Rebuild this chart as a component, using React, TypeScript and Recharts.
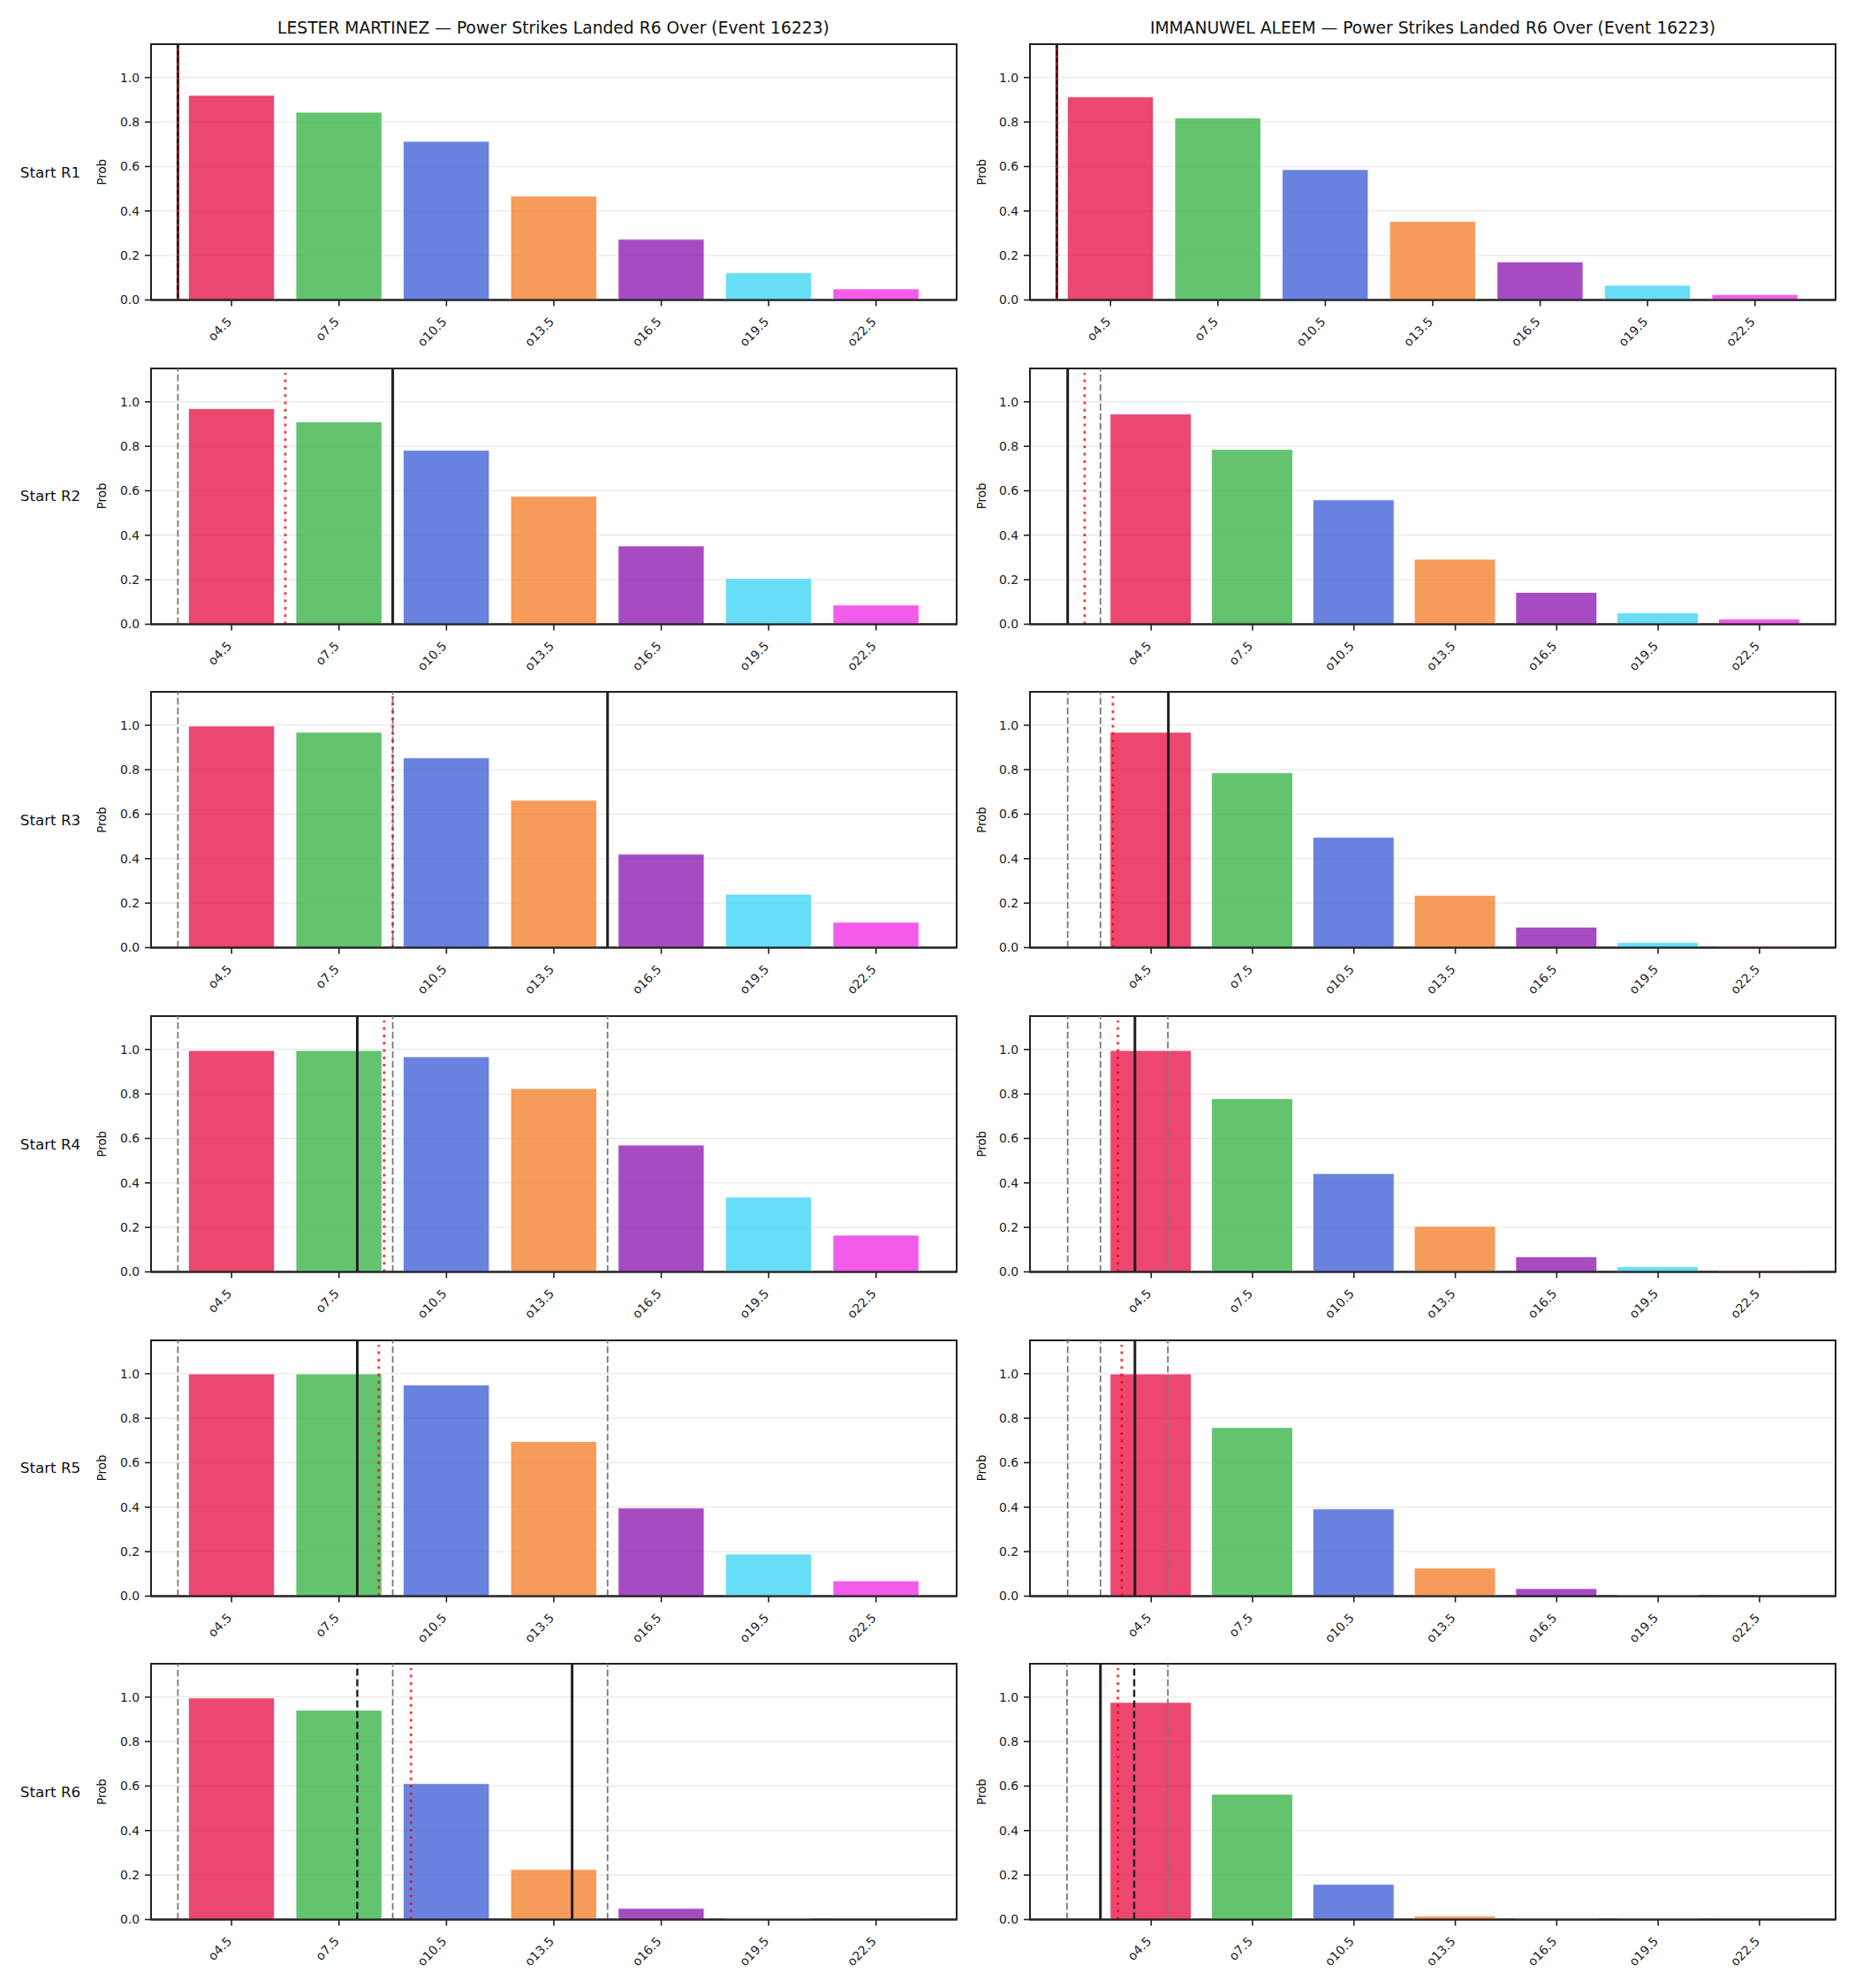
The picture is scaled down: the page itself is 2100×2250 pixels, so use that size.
import React from 'react';
import { BarChart, Bar, Cell, XAxis, YAxis, CartesianGrid, ReferenceLine, ReferenceArea } from 'recharts';

const LINE_LABELS = ['o4.5', 'o7.5', 'o10.5', 'o13.5', 'o16.5', 'o19.5', 'o22.5'];
const BAR_COLORS = ['#e6194B', '#3cb44b', '#4363d8', '#f58231', '#911eb4', '#42d4f4', '#f032e6'];
const ROUND_LABELS = ['Start R1', 'Start R2', 'Start R3', 'Start R4', 'Start R5', 'Start R6'];
const Y_TICKS = [0, 0.2, 0.4, 0.6, 0.8, 1.0];
const X_TICKS = [0, 1, 2, 3, 4, 5, 6];
const TITLES = [
  'LESTER MARTINEZ \u2014 Power Strikes Landed R6 Over (Event 16223)',
  'IMMANUWEL ALEEM \u2014 Power Strikes Landed R6 Over (Event 16223)',
];

// probability of going over each line, per starting round
const lesterR1 = [0.92, 0.844, 0.713, 0.467, 0.273, 0.122, 0.05];
const lesterR2 = [0.969, 0.91, 0.782, 0.575, 0.352, 0.206, 0.086];
const lesterR3 = [0.996, 0.968, 0.853, 0.662, 0.42, 0.24, 0.114];
const lesterR4 = [0.995, 0.995, 0.967, 0.824, 0.57, 0.336, 0.165];
const lesterR5 = [0.999, 0.999, 0.949, 0.695, 0.396, 0.189, 0.069];
const lesterR6 = [0.996, 0.941, 0.611, 0.225, 0.05, 0.003, 0.001];

const aleemR1 = [0.913, 0.818, 0.586, 0.353, 0.171, 0.066, 0.024];
const aleemR2 = [0.945, 0.786, 0.559, 0.292, 0.143, 0.051, 0.023];
const aleemR3 = [0.968, 0.786, 0.496, 0.235, 0.092, 0.023, 0.006];
const aleemR4 = [0.995, 0.779, 0.442, 0.205, 0.068, 0.023, 0.006];
const aleemR5 = [0.999, 0.758, 0.392, 0.126, 0.034, 0.003, 0.001];
const aleemR6 = [0.976, 0.563, 0.158, 0.015, 0.005, 0.002, 0.001];

// marker positions on the line axis (0 = o4.5, 1 = o7.5, ...)
const lesterPrior = [[], [-0.5], [-0.5, 1.5], [-0.5, 1.5, 3.5], [-0.5, 1.5, 3.5], [-0.5, 1.5, 3.5]];
const lesterLast = [null, null, null, null, null, 1.17];
const lesterNow = [-0.5, 1.5, 3.5, 1.17, 1.17, 3.17];
const lesterProj = [-0.5, 0.5, 1.5, 1.42, 1.37, 1.67];
const lesterXMin = [-0.75, -0.75, -0.75, -0.75, -0.75, -0.75];

const aleemPrior = [[], [-0.5], [-0.823, -0.5], [-0.823, -0.5, 0.165], [-0.823, -0.5, 0.165], [-0.83, -0.5, 0.165]];
const aleemLast = [null, null, null, null, null, -0.167];
const aleemNow = [-0.5, -0.823, 0.17, -0.16, -0.16, -0.5];
const aleemProj = [-0.5, -0.656, -0.377, -0.328, -0.29, -0.327];
const aleemXMin = [-0.75, -1.195, -1.195, -1.195, -1.195, -1.195];

const X_MAX = 6.75;
const Y_MAX = 1.15;

const lesterRows = [lesterR1, lesterR2, lesterR3, lesterR4, lesterR5, lesterR6];
const aleemRows = [aleemR1, aleemR2, aleemR3, aleemR4, aleemR5, aleemR6];

const FONT = '"DejaVu Sans", sans-serif';
const TICK_FS = 13.9;
const AX_W = 912;
const AX_H = 289.5;
const PAD_L = 70;
const PAD_B = 70;
const COL_LEFT = [170.5, 1166];
const ROW_TOP = [50, 416.7, 783.3, 1150, 1516.7, 1883.3];

const XTick = (props: any) => {
  const { x, payload } = props;
  const yBase = 5 + AX_H + 25.5;
  return (
    <g transform={`translate(${x + 1},${yBase}) rotate(-45)`}>
      <text x={0} y={0} textAnchor="end" fontSize={TICK_FS} fill="#222" fontFamily={FONT}>
        {LINE_LABELS[payload.value]}
      </text>
    </g>
  );
};

type PanelProps = {
  values: number[];
  xMin: number;
  prior: number[];
  last: number | null;
  now: number;
  proj: number;
  left: number;
  top: number;
};

const Panel: React.FC<PanelProps> = ({ values, xMin, prior, last, now, proj, left, top }) => {
  const data = values.map((p, i) => ({ i, p }));
  const unit = AX_W / (X_MAX - xMin);
  return (
    <div style={{ position: 'absolute', left: left - PAD_L, top: top - 5 }}>
      <BarChart
        width={PAD_L + AX_W + 5}
        height={5 + AX_H + PAD_B}
        data={data}
        margin={{ top: 5, right: 5, bottom: 0, left: 0 }}
      >
        <CartesianGrid vertical={false} stroke="#e3e3e3" strokeWidth={1} />
        <XAxis
          dataKey="i"
          type="number"
          domain={[xMin, X_MAX]}
          allowDataOverflow
          ticks={X_TICKS}
          interval={0}
          height={PAD_B}
          tickSize={7}
          tick={<XTick />}
          axisLine={{ stroke: '#222', strokeWidth: 2 }}
          tickLine={{ stroke: '#222', strokeWidth: 1.6 }}
          padding={{ left: 0, right: 0 }}
        />
        <YAxis
          type="number"
          domain={[0, Y_MAX]}
          allowDataOverflow
          ticks={Y_TICKS}
          interval={0}
          width={PAD_L}
          tickSize={7}
          tickMargin={6}
          tickFormatter={(v: number) => v.toFixed(1)}
          tick={{ fontSize: TICK_FS, fill: '#222', fontFamily: FONT }}
          axisLine={{ stroke: '#222', strokeWidth: 2 }}
          tickLine={{ stroke: '#222', strokeWidth: 1.6 }}
        />
        <Bar dataKey="p" barSize={0.8 * unit} isAnimationActive={false} stroke="#ffffff" strokeWidth={0.8}>
          {data.map((d) => (
            <Cell key={d.i} fill={BAR_COLORS[d.i]} fillOpacity={0.8} />
          ))}
        </Bar>
        {prior.map((v, k) => (
          <ReferenceLine key={'g' + k} x={v} stroke="#7a7a7a" strokeWidth={1.8} strokeDasharray="7.7 3.3" />
        ))}
        {last !== null && (
          <ReferenceLine x={last} stroke="#1f1f1f" strokeWidth={2.4} strokeDasharray="8 4" />
        )}
        <ReferenceLine x={now} stroke="#1f1f1f" strokeWidth={3} />
        <ReferenceLine
          segment={[{ x: proj, y: 0 }, { x: proj, y: 1.13 }]}
          stroke="red"
          strokeOpacity={0.78}
          strokeWidth={2.8}
          strokeDasharray="3 5.3"
        />
        <ReferenceArea x1={xMin} x2={X_MAX} y1={0} y2={Y_MAX} fill="none" stroke="#222" strokeWidth={2} />
      </BarChart>
    </div>
  );
};

export default function App() {
  return (
    <div style={{ position: 'absolute', left: 0, top: 0, width: 2100, height: 2250, background: '#fff', fontFamily: FONT }}>
      {ROUND_LABELS.map((_, r) => (
        <React.Fragment key={r}>
          <Panel
            values={lesterRows[r]}
            xMin={lesterXMin[r]}
            prior={lesterPrior[r]}
            last={lesterLast[r]}
            now={lesterNow[r]}
            proj={lesterProj[r]}
            left={COL_LEFT[0]}
            top={ROW_TOP[r]}
          />
          <Panel
            values={aleemRows[r]}
            xMin={aleemXMin[r]}
            prior={aleemPrior[r]}
            last={aleemLast[r]}
            now={aleemNow[r]}
            proj={aleemProj[r]}
            left={COL_LEFT[1]}
            top={ROW_TOP[r]}
          />
        </React.Fragment>
      ))}
      <svg width={2100} height={2250} style={{ position: 'absolute', left: 0, top: 0, pointerEvents: 'none' }}>
        {TITLES.map((t, c) => (
          <text
            key={t}
            x={COL_LEFT[c] + AX_W / 2}
            y={31.7}
            textAnchor="middle"
            dominantBaseline="central"
            fontSize={18.7}
            fill="#111"
            fontFamily={FONT}
          >
            {t}
          </text>
        ))}
        {ROUND_LABELS.map((lab, r) => (
          <React.Fragment key={lab}>
            <text
              x={57}
              y={ROW_TOP[r] + AX_H / 2}
              textAnchor="middle"
              dominantBaseline="central"
              fontSize={16.7}
              fill="#111"
              fontFamily={FONT}
            >
              {lab}
            </text>
            {COL_LEFT.map((cl) => (
              <text
                key={cl}
                transform={`translate(${cl - 55},${ROW_TOP[r] + AX_H / 2}) rotate(-90)`}
                textAnchor="middle"
                dominantBaseline="central"
                fontSize={13.3}
                fill="#111"
                fontFamily={FONT}
              >
                Prob
              </text>
            ))}
          </React.Fragment>
        ))}
      </svg>
    </div>
  );
}
